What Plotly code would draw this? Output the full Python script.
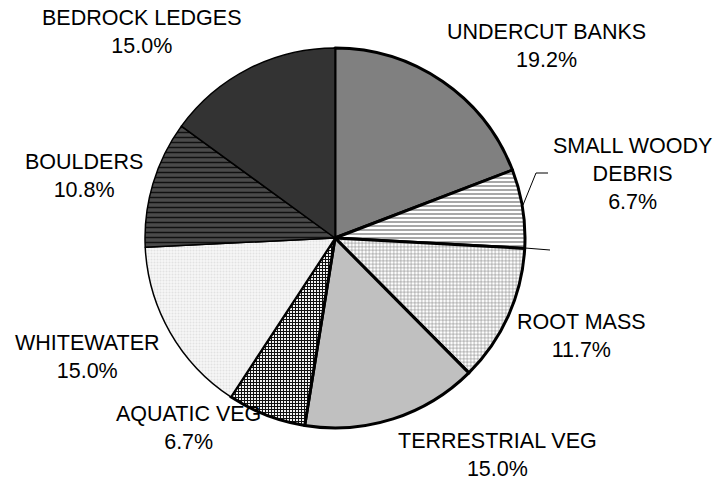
import plotly.graph_objects as go

categories = ["UNDERCUT BANKS", "SMALL WOODY DEBRIS", "ROOT MASS", "TERRESTRIAL VEG",
              "AQUATIC VEG", "WHITEWATER", "BOULDERS", "BEDROCK LEDGES"]
values = [19.2, 6.7, 11.7, 15.0, 6.7, 15.0, 10.8, 15.0]
label_text = ["UNDERCUT BANKS", "SMALL WOODY<br>DEBRIS", "ROOT MASS", "TERRESTRIAL VEG",
              "AQUATIC VEG", "WHITEWATER", "BOULDERS", "BEDROCK LEDGES"]

W, H = 713, 481

bg = ["#808080", "#ffffff", "#ffffff", "#c0c0c0", "#ffffff", "#f7f7f7", "#4a4a4a", "#333333"]
fg = ["#808080", "#a8a8a8", "#808080", "#c0c0c0", "#111111", "#e2e2e2", "#111111", "#333333"]
shapes_p = ["", "-", "+", "", "+", ".", "-", ""]
sizes = [4, 4, 3.5, 4, 3, 3, 5, 4]
solid = [0.3, 0.5, 0.3, 0.3, 0.6, 0.35, 0.3, 0.3]
line_w = [3, 3, 3, 3, 3, 1.5, 1.5, 1.5]

def px_x(x):
    return x / W

def px_y(y):
    return 1 - y / H

fig = go.Figure(go.Pie(
    labels=categories, values=values, sort=False, direction="clockwise", rotation=0,
    textinfo="none", hoverinfo="label+percent", showlegend=False,
    marker=dict(colors=bg, line=dict(color="black", width=line_w),
                pattern=dict(shape=shapes_p, fgcolor=fg, bgcolor=bg, size=sizes,
                             solidity=solid, fillmode="replace")),
    domain=dict(x=[px_x(145), px_x(525)], y=[px_y(429), px_y(47)]),
))

# label centre positions in pixels
label_px = [(546, 46), (632, 174), (581, 336), (497, 455), (188, 428), (87, 357), (84, 176), (142, 32)]
annotations = []
for txt, v, (px, py) in zip(label_text, values, label_px):
    annotations.append(dict(text=f"{txt}<br>{v:.1f}%", x=px_x(px), y=px_y(py), xref="paper", yref="paper",
                            xanchor="center", yanchor="middle", showarrow=False,
                            font=dict(family="Liberation Sans, Arial", size=21.5, color="black")))

def seg(x0, y0, x1, y1):
    return dict(type="line", xref="paper", yref="paper", x0=px_x(x0), y0=px_y(y0), x1=px_x(x1), y1=px_y(y1),
                line=dict(color="black", width=1))

fig.update_layout(
    width=W, height=H, margin=dict(l=0, r=0, t=0, b=0),
    paper_bgcolor="white", plot_bgcolor="white",
    annotations=annotations,
    shapes=[seg(523, 205, 536, 173), seg(536, 173, 548, 173), seg(525, 248, 550, 250)],
)
fig.write_html("out.html", config={"displayModeBar": False},
               post_script="document.body.style.margin='0';document.body.style.overflow='hidden';")
